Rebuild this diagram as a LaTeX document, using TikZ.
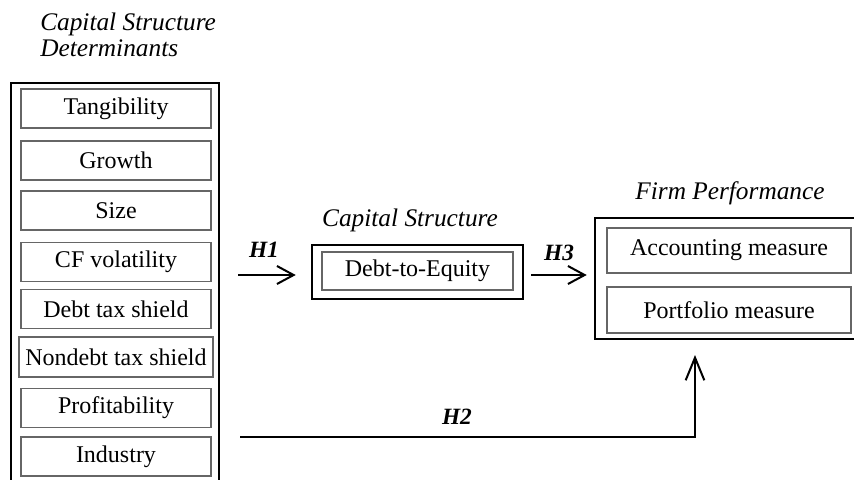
\documentclass[tikz,border=0pt]{standalone}
\usepackage{fontspec}
\setmainfont{Liberation Serif}
\usetikzlibrary{arrows.meta}
\tikzset{
  frame/.style={draw=black, line width=1.9pt, inner sep=0pt},
  itembox/.style={draw=black!60, line width=1.1pt, inner sep=0pt,
    minimum width=142.5pt, minimum height=29.25pt,
    font=\fontsize{18}{20}\selectfont},
  measbox/.style={draw=black!60, line width=1.1pt, inner sep=0pt,
    minimum width=183pt, minimum height=34pt,
    font=\fontsize{18}{20}\selectfont},
  grouplabel/.style={font=\fontsize{19}{19.5}\selectfont\itshape, inner sep=0pt},
  hlabel/.style={font=\fontsize{17.5}{19}\selectfont\bfseries\itshape, inner sep=0pt},
  arr/.style={line width=1.5pt, -{Straight Barb[length=12.5pt,width=13.5pt]}},
  arrlong/.style={line width=1.5pt, -{Straight Barb[length=17pt,width=14pt]}},
}
\begin{document}
\begin{tikzpicture}[x=0.75pt,y=-0.75pt]
\useasboundingbox (0,0) rectangle (854,479);
\clip (0,0) rectangle (854,479);
% titles
\node[grouplabel, anchor=west, align=left] (detlabel) at (40,35) {Capital Structure\\Determinants};
\node[grouplabel] (cslabel) at (410,220) {Capital Structure};
\node[grouplabel] (fplabel) at (730,193) {Firm Performance};
% left frame
\node[frame, minimum width=156pt, minimum height=305.25pt] (detframe) at (115,286.5) {};
\node[itembox] (tang) at (116,108.5) {Tangibility};
\node[itembox] (growth) at (116,160.5) {Growth};
\node[itembox] (size) at (116,210.5) {Size};
\node[itembox] (cfvol) at (116,262) {CF volatility};
\node[itembox] (dts) at (116,309) {Debt tax shield};
\node[itembox, minimum width=145.5pt, minimum height=30pt] (ndts) at (116,357) {Nondebt tax shield};
\node[itembox] (prof) at (116,408) {Profitability};
\node[itembox] (ind) at (116,456.5) {Industry};
% middle
\node[frame, minimum width=158.25pt, minimum height=40.5pt] (csframe) at (417.5,272) {};
\node[itembox, minimum width=143.25pt, minimum height=28.5pt] (dte) at (417.5,271) {Debt-to-Equity};
% right
\node[frame, minimum width=200.25pt, minimum height=90.75pt] (fpframe) at (728.5,278.5) {};
\node[measbox] (acc) at (729,250.5) {Accounting measure};
\node[measbox, minimum height=34.5pt] (port) at (729,310) {Portfolio measure};
% arrows
\coordinate (h1s) at (238,275);
\coordinate (h2s) at (240,437);
\coordinate (h2end) at (695,355);
\draw[arr, shorten >=11.25pt] (h1s) -- (h1s -| csframe.west);
\draw[arr, shorten <=5.25pt, shorten >=5.25pt] (csframe.east |- h1s) -- (fpframe.west |- h1s);
\draw[arrlong, line join=miter] (h2s) -| (h2end);
\node[hlabel] (h1) at (264,250) {H1};
\node[hlabel] (h3) at (559,253) {H3};
\node[hlabel] (h2) at (457,417) {H2};
\end{tikzpicture}
\end{document}
